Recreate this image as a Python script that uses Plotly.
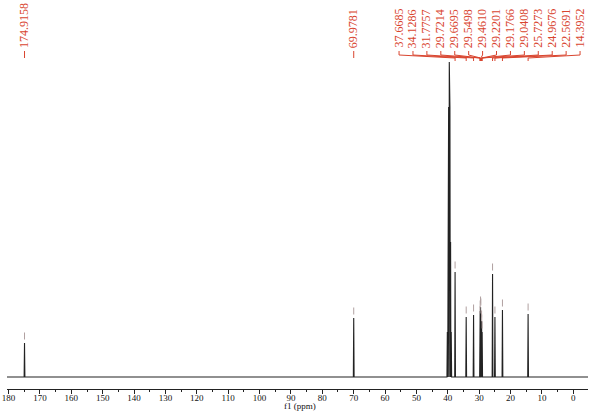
import plotly.graph_objects as go
import numpy as np

# ---- data ----
peak_ppm = [174.9158, 69.9781, 37.6685, 34.1286, 31.7757, 29.7214, 29.6695,
            29.5498, 29.4610, 29.2201, 29.1766, 29.0408, 25.7273, 24.9676,
            22.5691, 14.3952]
peak_int = [34, 59, 105, 60, 62, 60, 66, 70, 68, 56, 52, 45, 103, 60, 67, 63]
peak_labels = ["174.9158", "69.9781", "37.6685", "34.1286", "31.7757", "29.7214",
               "29.6695", "29.5498", "29.4610", "29.2201", "29.1766", "29.0408",
               "25.7273", "24.9676", "22.5691", "14.3952"]
solvent_ppm = [40.14, 39.93, 39.73, 39.52, 39.31, 39.10, 38.89]
solvent_int = [45, 135, 270, 315, 270, 135, 45]
x_range = [180.5, -4.7]

# ---- build spectrum trace from the peak lists ----
all_p = peak_ppm + solvent_ppm
all_h = peak_int + solvent_int
order = sorted(range(len(all_p)), key=lambda i: -all_p[i])
w = 0.12
xs = [x_range[0]]
ys = [0]
for i in order:
    p, h = all_p[i], all_h[i]
    xs += [p + w, p, p - w]
    ys += [0, h, 0]
xs.append(x_range[1])
ys.append(0)

fig = go.Figure()
fig.add_trace(go.Scatter(x=xs, y=ys, mode="lines",
                         line=dict(color="#222222", width=1.1),
                         hoverinfo="skip", showlegend=False))
# peak pick markers
fig.add_trace(go.Scatter(x=peak_ppm, y=[h + 7 for h in peak_int], mode="markers",
                         marker=dict(symbol="line-ns", size=5,
                                     line=dict(color="#b0a0a0", width=1)),
                         hoverinfo="skip", showlegend=False))
# invisible trace on the tick-mark axis
fig.add_trace(go.Scatter(x=[x_range[0], x_range[1]], y=[0, 0], mode="lines",
                         line=dict(width=0), xaxis="x2", hoverinfo="skip",
                         showlegend=False))

RED = "#d9452f"
PLOT_H = 389.0
def py(pix):
    return 1 - pix / PLOT_H

PX_PER_PPM = 3.137
X0_PIX = 573.2
def ppm_of(px):
    return (X0_PIX - px) / PX_PER_PPM

annotations = []
shapes = []
# single labels (first two)
for k in range(2):
    annotations.append(dict(x=peak_ppm[k], xref="x", y=py(50), yref="paper",
                            text=peak_labels[k], textangle=-90, showarrow=False,
                            xanchor="center", yanchor="bottom",
                            font=dict(family="Liberation Serif", size=12, color=RED)))
    shapes.append(dict(type="line", xref="x", yref="paper",
                       x0=peak_ppm[k], x1=peak_ppm[k], y0=py(51), y1=py(58),
                       line=dict(color=RED, width=1)))
# cluster labels spread evenly
n = len(peak_ppm) - 2
lab_x = np.linspace(ppm_of(399), ppm_of(580), n)
for j in range(n):
    k = j + 2
    annotations.append(dict(x=lab_x[j], xref="x", y=py(50), yref="paper",
                            text=peak_labels[k], textangle=-90, showarrow=False,
                            xanchor="center", yanchor="bottom",
                            font=dict(family="Liberation Serif", size=12, color=RED)))
    shapes.append(dict(type="line", xref="x", yref="paper",
                       x0=lab_x[j], x1=lab_x[j], y0=py(51), y1=py(55),
                       line=dict(color=RED, width=1)))
    shapes.append(dict(type="line", xref="x", yref="paper",
                       x0=lab_x[j], x1=peak_ppm[k], y0=py(55), y1=py(58),
                       line=dict(color=RED, width=1)))
    shapes.append(dict(type="line", xref="x", yref="paper",
                       x0=peak_ppm[k], x1=peak_ppm[k], y0=py(58), y1=py(61),
                       line=dict(color=RED, width=1)))

# axis title as annotation for precise placement
annotations.append(dict(x=ppm_of(300), xref="x", y=py(406), yref="paper",
                        text="f1 (ppm)", showarrow=False, xanchor="center",
                        yanchor="middle",
                        font=dict(family="Liberation Serif", size=9, color="#111111")))

fig.update_layout(
    width=600, height=412,
    margin=dict(l=7, r=12, t=0, b=23, autoexpand=False),
    paper_bgcolor="white", plot_bgcolor="white",
    annotations=annotations, shapes=shapes,
    xaxis=dict(range=x_range, showgrid=False, zeroline=False, automargin=False,
               showline=True, linecolor="#222222", linewidth=1,
               ticks="", tick0=0, dtick=10,
               tickfont=dict(family="Liberation Serif", size=9, color="#111111")),
    xaxis2=dict(range=x_range, overlaying="x", side="bottom", anchor="y",
                showgrid=False, zeroline=False, automargin=False,
                showticklabels=False, showline=False,
                ticks="outside", ticklen=4, tickcolor="#222222",
                tick0=0, dtick=10,
                minor=dict(ticks="outside", ticklen=2, dtick=5, tick0=0,
                           tickcolor="#222222")),
    yaxis=dict(range=[-12, 377], visible=False),
)

fig.write_html("out.html", config={"displayModeBar": False},
               post_script="document.body.style.margin='0';document.body.style.overflow='hidden';")
